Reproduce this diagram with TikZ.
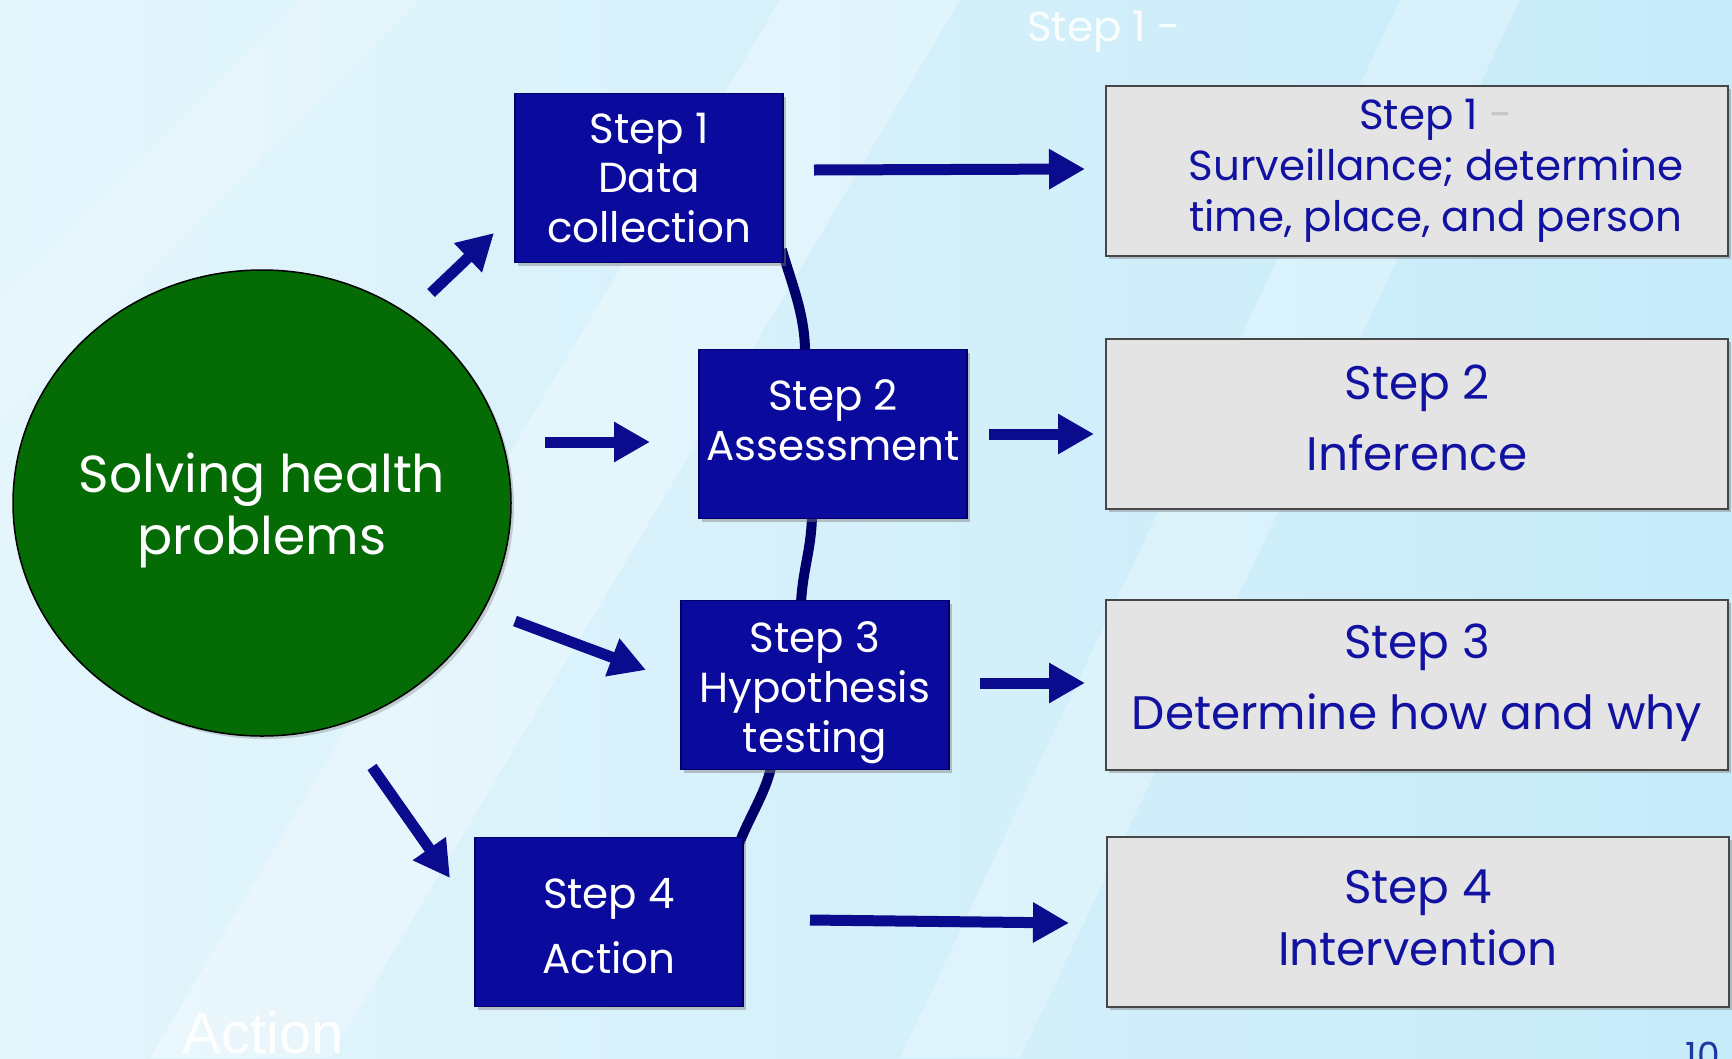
\documentclass[tikz,border=0pt]{standalone}
\usepackage{fontspec}
\setmainfont{Poppins}
\newfontfamily\arialfont{Liberation Sans}
\usetikzlibrary{arrows.meta,shadows,calc,shapes.geometric}
\definecolor{bgA}{HTML}{E4F5FC}
\definecolor{bgB}{HTML}{C6EBF9}
\definecolor{navyfill}{HTML}{0A0A9C}
\definecolor{navyline}{HTML}{00006A}
\definecolor{arrowblue}{HTML}{0B0B8E}
\definecolor{boxgray}{HTML}{E4E4E4}
\definecolor{txtblue}{HTML}{1212A2}
\definecolor{circgreen}{HTML}{056B05}
\definecolor{numblue}{HTML}{1A3AA0}
\pgfdeclarelayer{bg}
\pgfdeclarelayer{links}
\pgfsetlayers{bg,links,main}
\begin{document}
\begin{tikzpicture}[x=1pt,y=-1pt,
  bluebox/.style={draw=navyline, line width=1.5pt, fill=navyfill, text=white,
    minimum width=268pt, minimum height=169pt, align=center, inner sep=0pt,
    font=\fontsize{42}{50}\selectfont,
    drop shadow={shadow xshift=3pt, shadow yshift=-3pt, opacity=0.45}},
  graybox/.style={draw=black!72, line width=2pt, fill=boxgray, text=txtblue,
    minimum width=622pt, minimum height=170pt, align=center, inner sep=0pt,
    font=\fontsize{47}{56}\selectfont,
    drop shadow={shadow xshift=3pt, shadow yshift=-3pt, opacity=0.45}},
  boxtext/.style={inner sep=0pt, align=center},
  bigarrow/.style={arrowblue, line width=11pt, -{Triangle[width=38pt,length=36pt]}},
  link/.style={navyline, line width=10pt}]

\useasboundingbox (0,0) rectangle (1732,1058);

\begin{pgfonlayer}{bg}
  \fill[left color=bgA, right color=bgB] (0,0) rectangle (1732,1058);
  \fill[white, opacity=0.30] (150,1058) -- (780,0) -- (960,0) -- (330,1058) -- cycle;
  \fill[white, opacity=0.25] (900,1058) -- (1400,0) -- (1520,0) -- (1020,1058) -- cycle;
  \fill[white, opacity=0.20] (0,300) -- (300,0) -- (420,0) -- (0,420) -- cycle;
\end{pgfonlayer}

% faded texts
\node[text=white, opacity=0.9, inner sep=0pt, font=\fontsize{42}{50}\selectfont] (ghostA) at (1104,32) {Step 1 -};
\node[text=white, opacity=0.95, inner sep=0pt, font=\arialfont\fontsize{58}{60}\selectfont] (ghostB) at (263,1033) {Action};
\node[text=numblue, inner sep=0pt, font=\fontsize{36}{40}\selectfont] (pagenum) at (1703,1055) {10};

% central circle
\node[ellipse, draw=black, line width=1.5pt, fill=circgreen,
  minimum width=498pt, minimum height=466pt, inner sep=0pt,
  drop shadow={shadow xshift=3pt, shadow yshift=-3pt, opacity=0.35}]
  (core) at (262,503) {};
\node[text=white, align=center, inner sep=0pt, font=\fontsize{52}{62}\selectfont]
  (coretext) at ($(core.center)+(0,7)$) {Solving health\\problems};

% step boxes
\node[bluebox] (s1) at (649,178) {};
\node[boxtext, text=white, font=\fontsize{42}{50}\selectfont] (s1t) at (649,178) {Step 1\\Data\\collection};
\node[bluebox] (s2) at (833,434) {};
\node[boxtext, text=white, font=\fontsize{42}{50}\selectfont] (s2t) at (833,420) {Step 2\\Assessment};
\node[bluebox] (s3) at (815,685) {};
\node[boxtext, text=white, font=\fontsize{42}{50}\selectfont] (s3t) at (815,693) {Step 3\\Hypothesis\\testing};
\node[bluebox] (s4) at (609,922) {};
\node[boxtext, text=white, font=\fontsize{42}{50}\selectfont] (s4t) at (609,926) {Step 4\\[15pt]Action};

% description boxes
\node[graybox] (g1) at (1417,171) {};
\node[boxtext, text=txtblue, font=\fontsize{42}{51}\selectfont] (g1t) at (1436,171) {Step 1 {\color{black!22}-}\\Surveillance; determine\\time, place, and person};
\node[graybox] (g2) at (1417,424) {};
\node[boxtext, text=txtblue, font=\fontsize{47}{56}\selectfont] (g2t) at (1417,418) {Step 2\\[15pt]Inference};
\node[graybox] (g3) at (1417,685) {};
\node[boxtext, text=txtblue, font=\fontsize{47}{56}\selectfont] (g3t) at (1417,683) {Step 3\\[15pt]Determine how and why};
\node[graybox] (g4) at (1418,922) {};
\node[boxtext, text=txtblue, font=\fontsize{47}{56}\selectfont] (g4t) at (1418,918) {Step 4\\[6pt]Intervention};

% links between the steps
\begin{pgfonlayer}{links}
  \draw[link] ($(s1.south east)+(-2,-14)$) .. controls +(9,32) and +(0,-38) .. ($(s2.north)+(-28,3)$);
  \draw[link] ($(s2.south)+(-21,-3)$) .. controls +(-1,35) and +(2,-35) .. ($(s3.north)+(-14,3)$);
  \draw[link] ($(s3.south)+(-44,-3)$) .. controls +(-5,25) and +(9,-25) .. ($(s4.north east)+(-5,8)$);
\end{pgfonlayer}

% arrows from the circle
\coordinate (a1s) at (431,293); \coordinate (a1e) at (494,233);
\coordinate (a2s) at (545,442); \coordinate (a2e) at (650,442);
\coordinate (a3s) at (515,621); \coordinate (a3e) at (646,670);
\coordinate (a4s) at (372,767); \coordinate (a4e) at (450,878);
\draw[bigarrow] (a1s) -- (a1e);
\draw[bigarrow] (a2s) -- (a2e);
\draw[bigarrow] (a3s) -- (a3e);
\draw[bigarrow] (a4s) -- (a4e);

% arrows to the descriptions
\coordinate (r1s) at (814,170); \coordinate (r1e) at (1085,169);
\coordinate (r2s) at (989,434); \coordinate (r2e) at (1094,434);
\coordinate (r3s) at (980,683); \coordinate (r3e) at (1085,683);
\coordinate (r4s) at (810,920); \coordinate (r4e) at (1069,923);
\draw[bigarrow] (r1s) -- (r1e);
\draw[bigarrow] (r2s) -- (r2e);
\draw[bigarrow] (r3s) -- (r3e);
\draw[bigarrow] (r4s) -- (r4e);
\end{tikzpicture}
\end{document}
